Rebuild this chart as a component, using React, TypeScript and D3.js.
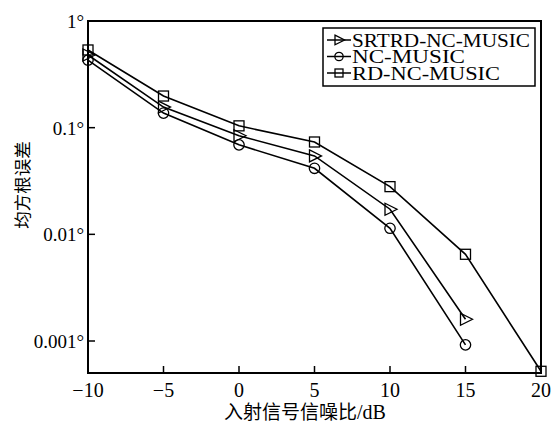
import React, { useEffect, useRef } from "react";
import * as d3 from "d3";

const snr = [-10, -5, 0, 5, 10, 15, 20];
const srtrd = [0.48, 0.156, 0.084, 0.0543, 0.0172, 0.0016];
const ncMusic = [0.43, 0.137, 0.069, 0.0416, 0.0114, 0.00092];
const rdNcMusic = [0.535, 0.198, 0.104, 0.0734, 0.028, 0.0065, 0.00052];
const xTicks = [-10, -5, 0, 5, 10, 15, 20];
const xTickLabels = ["\u221210", "\u22125", "0", "5", "10", "15", "20"];
const yTicks = [1, 0.1, 0.01, 0.001];
const yTickLabels = ["1°", "0.1°", "0.01°", "0.001°"];
const seriesNames = ["SRTRD-NC-MUSIC", "NC-MUSIC", "RD-NC-MUSIC"];
const seriesMarkers = ["triangle", "circle", "square"];

const W = 560, H = 423;
const M = { left: 88, right: 541, top: 21, bottom: 373 };
const serif = "'Liberation Serif', 'Times New Roman', serif";
const cjk = "'Noto Sans CJK SC', sans-serif";

export default function App() {
  const ref = useRef<SVGSVGElement>(null);
  useEffect(() => {
    const svg = d3.select(ref.current);
    svg.selectAll("*").remove();
    const x = d3.scaleLinear().domain([-10, 20]).range([M.left, M.right]);
    const y = d3.scaleLog().domain([Math.pow(10, -3.3), 1]).range([M.bottom, M.top]);

    const data = [srtrd, ncMusic, rdNcMusic];
    const line = d3.line<[number, number]>().x(d => x(d[0])).y(d => y(d[1]));

    const drawMarker = (g: any, type: string, cx: number, cy: number, s = 1) => {
      const common = (sel: any) => sel.attr("fill", "none").attr("stroke", "#000").attr("stroke-width", 1.3);
      if (type === "square") {
        common(g.append("rect").attr("x", cx - 5 * s).attr("y", cy - 5 * s).attr("width", 10 * s).attr("height", 10 * s));
      } else if (type === "circle") {
        common(g.append("circle").attr("cx", cx).attr("cy", cy).attr("r", 5.2 * s));
      } else {
        const pts = [[cx - 5 * s, cy - 6 * s], [cx + 7 * s, cy], [cx - 5 * s, cy + 6 * s]];
        common(g.append("path").attr("d", "M" + pts.map(p => p.join(",")).join("L") + "Z"));
      }
    };

    // lines and markers
    data.forEach((vals, i) => {
      const pts: [number, number][] = vals.map((v, j) => [snr[j], v]);
      svg.append("path").attr("d", line(pts)!).attr("fill", "none").attr("stroke", "#000").attr("stroke-width", 1.6);
      const g = svg.append("g");
      pts.forEach(p => drawMarker(g, seriesMarkers[i], x(p[0]), y(p[1])));
    });

    // frame
    svg.append("rect").attr("x", M.left).attr("y", M.top).attr("width", M.right - M.left).attr("height", M.bottom - M.top)
      .attr("fill", "none").attr("stroke", "#000").attr("stroke-width", 2);

    // x ticks
    xTicks.forEach((t, i) => {
      svg.append("line").attr("x1", x(t)).attr("x2", x(t)).attr("y1", M.bottom).attr("y2", M.bottom - 7)
        .attr("stroke", "#000").attr("stroke-width", 1.5);
      svg.append("text").attr("x", x(t)).attr("y", 397).attr("text-anchor", "middle")
        .attr("font-family", serif).attr("font-size", 20).text(xTickLabels[i]);
    });
    // y ticks
    yTicks.forEach((t, i) => {
      svg.append("line").attr("x1", M.left).attr("x2", M.left + 7).attr("y1", y(t)).attr("y2", y(t))
        .attr("stroke", "#000").attr("stroke-width", 1.5);
      svg.append("text").attr("x", 84).attr("y", y(t) + 7).attr("text-anchor", "end")
        .attr("font-family", serif).attr("font-size", 19).text(yTickLabels[i]);
    });

    // axis labels
    const xl = svg.append("text").attr("x", 305).attr("y", 419).attr("text-anchor", "middle");
    xl.append("tspan").attr("font-family", cjk).attr("font-size", 19).text("入射信号信噪比");
    xl.append("tspan").attr("font-family", serif).attr("font-size", 20).text("/dB");
    svg.append("text").attr("transform", "translate(29,185) rotate(-90)").attr("text-anchor", "middle")
      .attr("font-family", cjk).attr("font-size", 17.5).text("均方根误差");

    // legend
    const lg = svg.append("g");
    lg.append("rect").attr("x", 323).attr("y", 28).attr("width", 212).attr("height", 58)
      .attr("fill", "#fff").attr("stroke", "#000").attr("stroke-width", 1.5);
    const widths = [178, 113, 148];
    seriesNames.forEach((name, i) => {
      const cy = 40 + i * 16.5;
      lg.append("line").attr("x1", 327).attr("x2", 351).attr("y1", cy).attr("y2", cy)
        .attr("stroke", "#000").attr("stroke-width", 1.5);
      drawMarker(lg, seriesMarkers[i], 339, cy, 0.8);
      lg.append("text").attr("x", 352).attr("y", cy + 6.5).attr("font-family", serif).attr("font-size", 19)
        .attr("textLength", widths[i]).attr("lengthAdjust", "spacingAndGlyphs")
        .text(name);
    });
  }, []);
  return (
    <svg ref={ref} width={W} height={H} style={{ position: "absolute", left: 0, top: 0, background: "#fff" }} />
  );
}
